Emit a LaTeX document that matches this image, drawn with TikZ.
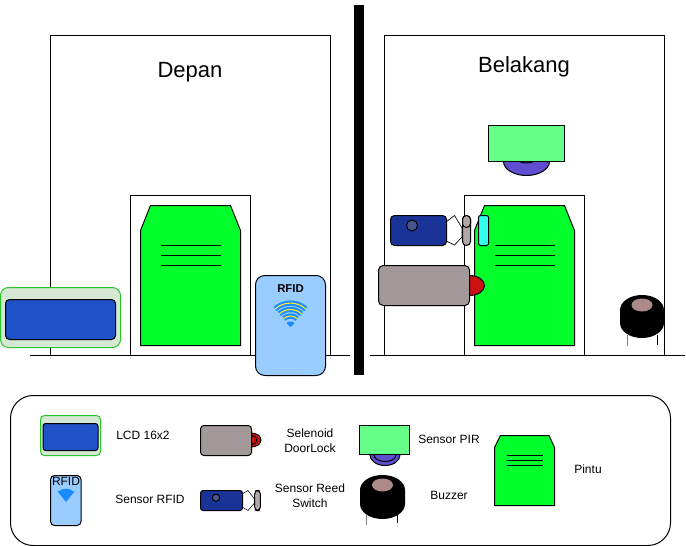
\documentclass[tikz,border=0pt]{standalone}
\usepackage{fontspec}
\setsansfont{Liberation Sans}
\usetikzlibrary{positioning}

\definecolor{hijau}{HTML}{00FF2B}
\definecolor{hijaupir}{HTML}{66FF88}
\definecolor{biru}{HTML}{1F52C6}
\definecolor{birutua}{HTML}{1A3399}
\definecolor{birumuda}{HTML}{99CCFF}
\definecolor{wifi}{HTML}{1A8CFF}
\definecolor{abu}{HTML}{A39999}
\definecolor{abumuda}{HTML}{B3A6A6}
\definecolor{merah}{HTML}{CC1111}
\definecolor{ungu}{HTML}{5F4FD0}
\definecolor{lcdbg}{HTML}{D5E8D4}
\definecolor{lcdtepi}{HTML}{2BC52B}
\definecolor{toska}{HTML}{33FFEE}
\definecolor{kuning}{HTML}{FFE933}
\definecolor{bintik}{HTML}{AD8A8A}

\tikzset{
  garis/.style={draw=black, line width=0.75pt},
  pintu/.style={garis, fill=hijau},
  lcdluar/.style={draw=lcdtepi, line width=0.75pt, fill=lcdbg, rounded corners=6pt},
  lcddalam/.style={garis, fill=biru, rounded corners=3pt},
  rfidbox/.style={garis, fill=birumuda, rounded corners=7pt},
  solbox/.style={garis, fill=abu, rounded corners=3.5pt},
  reedbox/.style={garis, fill=birutua, rounded corners=3pt},
  reedpil/.style={garis, fill=abumuda, rounded corners=3pt},
  label/.style={font=\fontsize{9pt}{11.2pt}\selectfont\sffamily, align=center, inner sep=0pt},
  judul/.style={font=\fontsize{16.5pt}{20pt}\selectfont\sffamily, inner sep=0pt},
}

\begin{document}
\begin{tikzpicture}[x=0.75pt, y=-0.75pt, font=\sffamily]
  \useasboundingbox (0,0) rectangle (686,546);

  % Dinding, kusen dan pintu
  \foreach \dx in {0,334} {
    \draw[garis] (50.5+\dx,355.5) -- (50.5+\dx,35.5) -- (330.5+\dx,35.5) -- (330.5+\dx,355.5);
    \draw[garis] (130.5+\dx,355.5) -- (130.5+\dx,195.5) -- (250.5+\dx,195.5) -- (250.5+\dx,355.5);
    \draw[pintu] (140.5+\dx,345.5) -- (140.5+\dx,230.5) -- (150.5+\dx,205.5) -- (230.5+\dx,205.5)
      -- (240.5+\dx,230.5) -- (240.5+\dx,345.5) -- cycle;
    \foreach \y in {245.5,255.5,265.5} {
      \draw[garis] (160.5+\dx,\y) -- (220.5+\dx,\y);
    }
  }

  % Lantai dan pembatas
  \draw[garis] (30,355.5) -- (350,355.5);
  \draw[garis] (370,355.5) -- (685,355.5);
  \fill[black] (354,5) rectangle (364,375);

  \node[judul] (depan) at (190,72) {Depan};
  \node[judul] (belakang) at (524,67) {Belakang};

  % Sisi depan
  \draw[lcdluar] (0.5,287.5) rectangle (120.5,347.5);
  \draw[lcddalam] (5.5,299.5) rectangle (115.5,339.5);
  \draw[rfidbox] (255.5,275.5) rectangle (325.5,375.5);
  \node[font=\fontsize{8.5pt}{10pt}\selectfont\bfseries\sffamily, inner sep=0pt] (rfidatas) at (290.5,288.5) {RFID};
  \foreach \r in {23,16.5,10} {
    \draw[wifi, line width=3.9pt] (290.5-\r*0.67,326-\r*0.74) arc[start angle=228, end angle=312, radius=\r];
    \draw[kuning, line width=0.8pt] (290.5-\r*0.67,326-\r*0.74) arc[start angle=228, end angle=312, radius=\r];
  }
  \fill[wifi] (290.5,327) -- (286.5,323) -- (288.5,321.5) -- (292.5,321.5) -- (294.5,323) -- cycle;

  % Sensor PIR belakang
  \draw[garis, fill=ungu] (526.5,161.5) ellipse (23 and 14);
  \draw[garis] (526.5,156) ellipse (12 and 7);
  \draw[garis, fill=hijaupir] (488.5,125.5) rectangle (564.5,161.5);

  % Reed switch belakang
  \draw[garis, line width=0.5pt, fill=white] (446,222) -- (454.5,215.5) -- (462,228) -- (462,237) -- (454.5,245) -- (446,241) -- cycle;
  \draw[reedbox] (390.5,215.5) rectangle (446.5,245.5);
  \draw[garis, fill=birutua!55!gray] (412,225.5) circle (5.5);
  \draw[reedpil] (462.5,215.5) rectangle (470.5,245.5);
  \draw[reedpil] (462.5,215.5) rectangle (470.5,227.5);
  \draw[garis, fill=toska, rounded corners=1.5pt] (478.5,215.5) rectangle (488.5,245.5);

  % Selenoid belakang
  \draw[garis, fill=merah] (469.5,285.5) ellipse (15 and 10);
  \draw[solbox] (378.5,265.5) rectangle (469.5,305.5);

  % Buzzer belakang
  \draw[garis, gray] (627,335) -- (627,346);
  \draw[garis] (657.5,335) -- (657.5,345);
  \fill[black] (620,310) arc[start angle=180, end angle=360, x radius=22, y radius=15]
    -- (664,323) arc[start angle=0, end angle=180, x radius=22, y radius=15] -- cycle;
  \fill[bintik] (642,305) ellipse (10.5 and 6.5);

  % Kotak keterangan
  \draw[garis, rounded corners=17pt] (10.5,395.5) rectangle (670.5,545.5);

  \draw[lcdluar, rounded corners=3pt] (40.5,415.5) rectangle (100.5,455.5);
  \draw[lcddalam, rounded corners=2pt] (43,423.5) rectangle (98,450.5);
  \node[label] (lcd) at (143,435) {LCD 16x2};

  \draw[garis, fill=merah] (251.5,440) ellipse (9.5 and 7);
  \draw[garis, fill=merah] (251.5,440) ellipse (5.5 and 4.5);
  \draw[solbox, rounded corners=2.5pt] (200.5,425.5) rectangle (251.5,455.5);
  \node[label] (selenoid) at (310,440.5) {Selenoid\\DoorLock};

  \draw[rfidbox, rounded corners=3pt] (50.5,475.5) rectangle (81,525.5);
  \fill[wifi] (66,502) -- (57.7,491.7) arc[start angle=231, end angle=309, radius=13.2] -- cycle;
  \node[label] (rfid) at (66,481) {RFID};
  \node[label] (sensorrfid) at (150,499.5) {Sensor RFID};

  \draw[garis, line width=0.4pt, fill=white] (242,494) -- (248,490.5) -- (254.5,499) -- (254.5,503) -- (248,510.5) -- (242,507) -- cycle;
  \draw[reedbox, rounded corners=2pt] (200.5,490.5) rectangle (242.5,510.5);
  \draw[garis, fill=birutua!55!gray] (216,497.7) circle (3.7);
  \draw[reedpil, rounded corners=2.5pt] (254.7,490.5) rectangle (260.3,510.5);
  \node[label] (reed) at (310,495.5) {Sensor Reed\\Switch};

  \draw[garis, fill=ungu] (385,455) ellipse (15 and 10.5);
  \draw[garis] (385,455) ellipse (11 and 6.5);
  \draw[garis, fill=hijaupir] (359.5,425.5) rectangle (409.5,454.5);
  \node[label] (pir) at (449,439.5) {Sensor PIR};

  \draw[garis, gray] (366.7,515) -- (366.7,525);
  \draw[garis] (397.3,515) -- (397.3,523);
  \fill[black] (360,490) arc[start angle=180, end angle=360, x radius=22.5, y radius=15]
    -- (405,504) arc[start angle=0, end angle=180, x radius=22.5, y radius=15] -- cycle;
  \fill[bintik] (382.5,485) ellipse (10.5 and 6.5);
  \node[label] (buzzer) at (449,495) {Buzzer};

  \draw[pintu] (494.5,505.5) -- (494.5,447.5) -- (500.5,435.5) -- (549,435.5)
    -- (554.5,447.5) -- (554.5,505.5) -- cycle;
  \foreach \y in {455.5,460.5,465.5} {
    \draw[garis] (506.5,\y) -- (542.5,\y);
  }
  \node[label] (pintulabel) at (588,469.5) {Pintu};
\end{tikzpicture}
\end{document}
